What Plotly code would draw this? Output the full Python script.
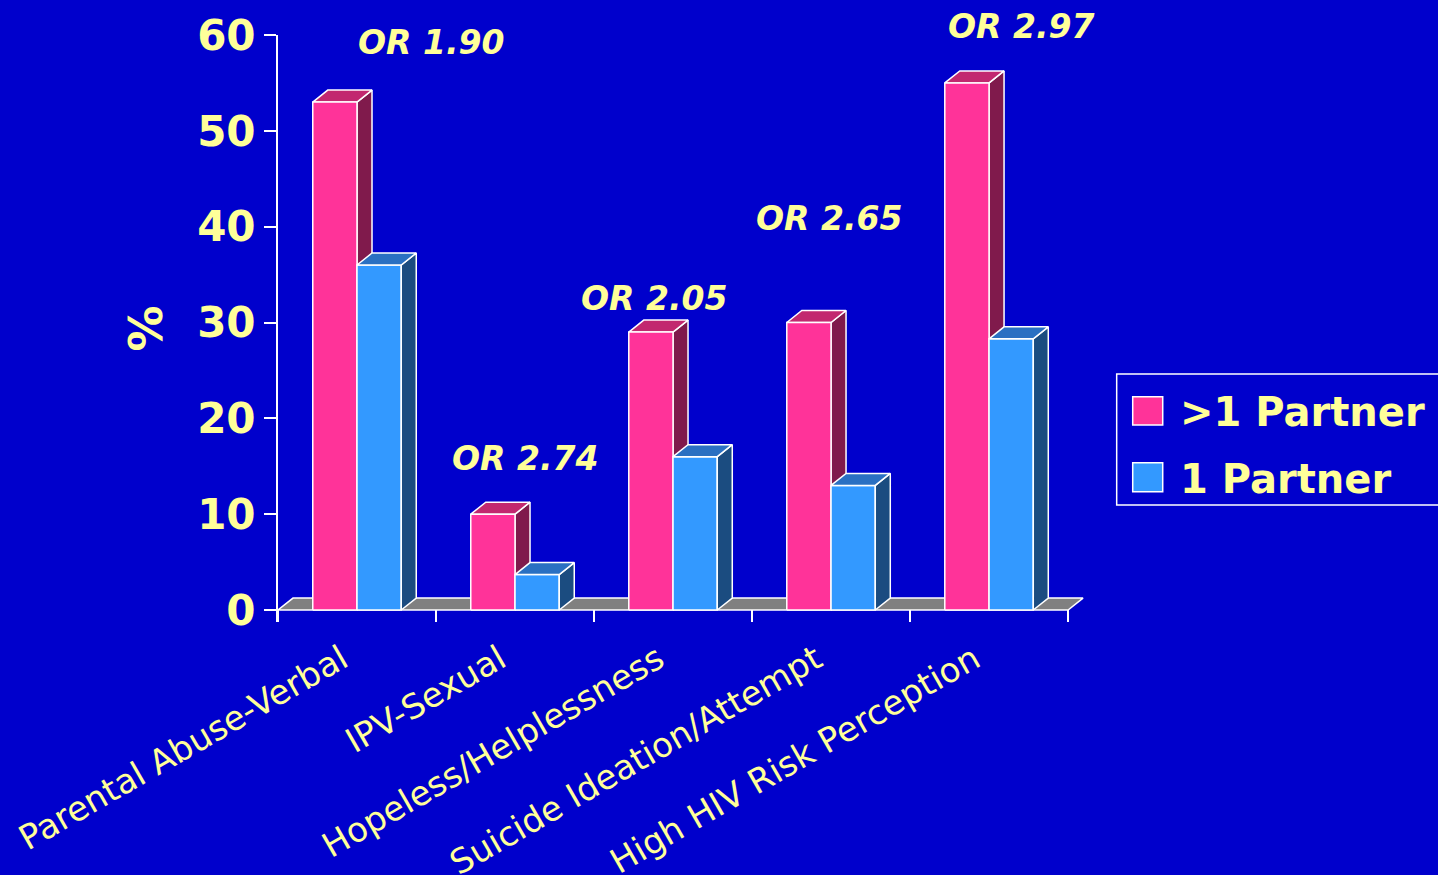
import plotly.graph_objects as go

# ---------------- data ----------------
categories = ["Parental Abuse-Verbal", "IPV-Sexual", "Hopeless/Helplessness",
              "Suicide Ideation/Attempt", "High HIV Risk Perception"]
multi_partner = [53, 10, 29, 30, 55]          # >1 Partner (%)
one_partner = [36, 3.7, 16, 13, 28.3]         # 1 Partner (%)
odds_labels = ["OR 1.90", "OR 2.74", "OR 2.05", "OR 2.65", "OR 2.97"]
series_names = [">1 Partner", "1 Partner"]
y_ticks = [0, 10, 20, 30, 40, 50, 60]

# ---------------- style / layout ----------------
BG = "#0000CC"
YELLOW = "#FFFF99"
FRONT = ["#FF3399", "#3399FF"]
TOP = ["#C2286F", "#2A70C2"]
SIDE = ["#801A4C", "#1B4C80"]
FLOOR = "#808080"
W = 0.28          # bar width (category units)
DX = 0.095        # depth offset in x (category units)
DY = 1.25         # depth offset in y (data units)
YMAX = 60
PX_PER_UNIT = 9.58
or_label_x_off = [0.467, 0.063, -0.123, -0.01, 0.2]
or_label_y = [59.2, 15.8, 32.5, 40.9, 60.9]

xpos = list(range(len(categories)))


def add_poly(xs, ys, px, py):
    xs.extend(px + [None])
    ys.extend(py + [None])


def faces(values, s):
    fx, fy, tx, ty, sx, sy = [], [], [], [], [], []
    for i, v in zip(xpos, values):
        x0 = i - W + s * W
        x1 = x0 + W
        add_poly(fx, fy, [x0, x1, x1, x0, x0], [0, 0, v, v, 0])
        add_poly(tx, ty, [x0, x0 + DX, x1 + DX, x1, x0], [v, v + DY, v + DY, v, v])
        add_poly(sx, sy, [x1, x1 + DX, x1 + DX, x1, x1], [0, DY, v + DY, v, 0])
    return (fx, fy), (tx, ty), (sx, sy)


def poly_trace(xy, color):
    return go.Scatter(x=xy[0], y=xy[1], mode="lines", fill="toself",
                      fillcolor=color, line=dict(color="white", width=1.5),
                      hoverinfo="skip", showlegend=False)


fig = go.Figure()

# floor
xmin, xmax = -0.5, len(categories) - 0.5
fig.add_trace(poly_trace(([xmin, xmax, xmax + DX, xmin + DX, xmin],
                          [0, 0, DY, DY, 0]), FLOOR))

pf, pt, ps = faces(multi_partner, 0)
bf, bt, bs = faces(one_partner, 1)
fig.add_trace(poly_trace(ps, SIDE[0]))
fig.add_trace(poly_trace(pt, TOP[0]))
fig.add_trace(poly_trace(pf, FRONT[0]))
fig.add_trace(poly_trace(bf, FRONT[1]))
fig.add_trace(poly_trace(bs, SIDE[1]))
fig.add_trace(poly_trace(bt, TOP[1]))

# OR annotations
for i, (lab, xo, yv) in enumerate(zip(odds_labels, or_label_x_off, or_label_y)):
    ya = min(yv, YMAX)
    fig.add_annotation(x=xpos[i] + xo, y=ya, xref="x", yref="y", text=lab,
                       showarrow=False, xanchor="center", yanchor="middle",
                       yshift=(yv - ya) * PX_PER_UNIT,
                       font=dict(family="DejaVu Sans", size=33, color=YELLOW,
                                 weight="bold", style="italic"))

# manual legend
fig.add_shape(type="rect", xref="paper", yref="paper", x0=1.0367, x1=1.45,
              y0=0.1993, y1=0.4225, line=dict(color="white", width=1.5),
              fillcolor=BG, layer="above")
leg_y = [(0.3356, 0.3838, 0.3575), (0.2220, 0.2714, 0.2435)]
for s in range(2):
    y0, y1, yt = leg_y[s]
    fig.add_shape(type="rect", xref="paper", yref="paper", x0=1.0565, x1=1.0936,
                  y0=y0, y1=y1, line=dict(color="white", width=1.5),
                  fillcolor=FRONT[s], layer="above")
    fig.add_annotation(x=1.113, y=yt, xref="paper", yref="paper",
                       text=series_names[s], showarrow=False, xanchor="left",
                       yanchor="middle",
                       font=dict(family="DejaVu Sans", size=40, color=YELLOW,
                                 weight="bold"))

fig.update_layout(
    width=1438, height=875,
    paper_bgcolor=BG, plot_bgcolor=BG,
    template="none",
    showlegend=False,
    margin=dict(l=278, r=351, t=35, b=253, pad=0),
    xaxis=dict(range=[xmin, xmax + 0.12], tickmode="array", tickvals=xpos,
               ticktext=categories, tickangle=-30, ticks="", showgrid=False,
               zeroline=False, showline=False, automargin=False,
               ticklabelshift=-15, ticklabelstandoff=10,
               tickfont=dict(family="DejaVu Sans", size=34, color=YELLOW),
               minor=dict(tickmode="array",
                          tickvals=[x - 0.5 for x in xpos] + [xmax],
                          ticks="inside", ticklen=12, tickcolor="white",
                          tickwidth=2, showgrid=False),
               fixedrange=True),
    yaxis=dict(range=[-1.25, YMAX], tickmode="array", tickvals=y_ticks,
               ticks="outside", ticklen=12, tickcolor="white", tickwidth=2,
               showline=True, linecolor="white", linewidth=2,
               showgrid=False, zeroline=False, automargin=False,
               tickfont=dict(family="DejaVu Sans", size=42, color=YELLOW,
                             weight="bold"),
               title=dict(text="%", standoff=20,
                          font=dict(family="DejaVu Sans", size=46,
                                    color=YELLOW, weight="bold")),
               fixedrange=True),
)

fig.write_html(
    "out.html",
    config={"displayModeBar": False},
    post_script="document.body.style.margin='0';"
                "document.body.style.background='#0000CC';",
)
